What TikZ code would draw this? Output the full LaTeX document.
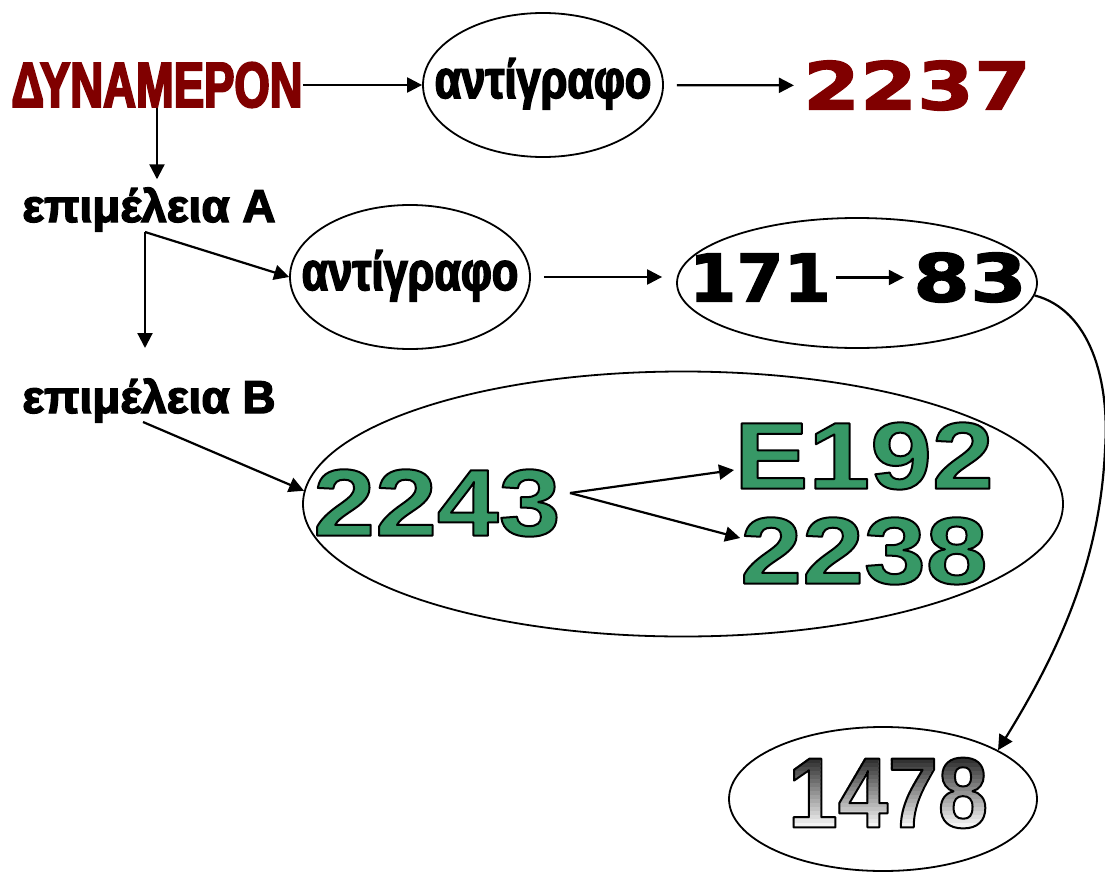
\documentclass[tikz,border=0pt]{standalone}
\usepackage{fontspec}
\setmainfont{Liberation Sans}[FakeBold=3]
\newfontfamily\condfont{Liberation Sans}[FakeStretch=0.71,FakeBold=3]
\newfontfamily\copyfont{Liberation Sans}[FakeStretch=0.8,FakeBold=3]
\newfontfamily\blackfont{DejaVu Sans}[FakeStretch=1.24,FakeBold=2]
\newfontfamily\onefont{DejaVu Sans}[FakeStretch=1.03,FakeBold=2]
\newfontfamily\greenfont{Liberation Sans}[FakeStretch=1.17]
\newfontfamily\greyfont{Liberation Sans}[FakeStretch=0.9]
\usetikzlibrary{arrows.meta}
\usetikzlibrary{shapes.geometric}
\usetikzlibrary{positioning}

\definecolor{darkred}{RGB}{128,0,0}
\definecolor{numgreen}{RGB}{55,152,102}

% fill in the text colour, black outline
\newcommand{\outlined}[1]{\special{pdf:code q 2 Tr 2 w 1 j 0 G}#1\special{pdf:code Q}}
% black outline only
\newcommand{\strokeonly}[1]{\special{pdf:code q 1 Tr 2 w 1 j 0 G}#1\special{pdf:code Q}}

\begin{document}
\begin{tikzpicture}[
    x=1pt,y=-1pt,
    arr/.style={-{Triangle[length=15pt,width=15pt]},line width=2.2pt},
    oval/.style={ellipse,draw,line width=1.8pt,inner sep=0pt},
    title/.style={font=\condfont\bfseries\fontsize{64}{64}\selectfont,text=darkred,inner sep=0pt},
    edlabel/.style={font=\bfseries\fontsize{46}{46}\selectfont,inner sep=0pt},
    copytext/.style={font=\copyfont\bfseries\fontsize{54}{54}\selectfont,inner sep=0pt},
    blacknum/.style={font=\blackfont\bfseries\fontsize{66}{66}\selectfont,inner sep=0pt},
    greennum/.style={font=\greenfont\bfseries\fontsize{95}{95}\selectfont,text=numgreen,inner sep=0pt},
    greynum/.style={font=\greyfont\bfseries\fontsize{100}{100}\selectfont,inner sep=0pt}
    ]
    \useasboundingbox (0,0) rectangle (1105,872);
    % top row
    \node[title] (dyn) at (157,85) {ΔΥΝΑΜΕΡΟΝ};
    \node[oval,minimum width=240pt,minimum height=144pt] (e1) at (543,85) {};
    \node[copytext,anchor=base] (t1) at ([yshift=-13pt]e1.center) {αντίγραφο};
    \node[blacknum,text=darkred] (n2237) at (917,85.5) {2237};
    \draw[arr] (dyn) -- (e1);
    \draw[arr,shorten <=13pt,shorten >=9pt] (e1) -- (n2237);
    % edition A
    \node[edlabel,anchor=base] (epA) at (149,222) {επιμέλεια Α};
    \draw[arr,shorten >=8pt] (dyn.south) -- (dyn.south |- epA.north);
    \coordinate (forkA) at (145,232);
    \coordinate (endA) at (145,348);
    \node[oval,minimum width=240pt,minimum height=144pt] (e2) at (410,277) {};
    \node[copytext,anchor=base] (t2) at ([yshift=-13pt]e2.center) {αντίγραφο};
    \draw[arr] (forkA) -- (e2.west);
    \draw[arr] (forkA) -- (endA);
    % 171 -> 83
    \node[oval,minimum width=360pt,minimum height=130pt] (e3) at (857,283) {};
    \node[blacknum,font=\onefont\bfseries\fontsize{66}{66}\selectfont] (n171) at (760,277.5) {171};
    \node[blacknum] (n83) at (970,277.5) {83};
    \draw[arr,shorten <=5pt,shorten >=9pt] (n171) -- (n83);
    \draw[arr,shorten <=13pt,shorten >=14pt] (e2.east) -- (e2.east -| e3.west);
    % edition B
    \node[edlabel,anchor=base] (epB) at (149,413) {επιμέλεια Β};
    \coordinate (forkB) at (143,422);
    \node[oval,minimum width=760pt,minimum height=265pt] (big) at (683,504) {};
    \node[greennum] (n2243) at (437,503) {\outlined{2243}};
    \node[greennum] (nE192) at (864,456) {\outlined{E192}};
    \node[greennum] (n2238) at (864,551) {\outlined{2238}};
    \draw[arr] (forkB) -- (big.178);
    \coordinate (split) at (570,493);
    \draw[arr] (split) -- ([yshift=-14pt]nE192.west);
    \draw[arr] (split) -- ([yshift=13pt]n2238.west);
    % 1478, shaded from dark grey to white
    \node[oval,minimum width=308pt,minimum height=144pt] (e4) at (883,799) {};
    \coordinate (c1478) at (888,793);
    \foreach \i in {0,...,18} {
      \pgfmathsetmacro\greylevel{85*(1-\i/18)}
      \begin{scope}
        \clip (780,{755+4*\i}) rectangle (1000,{760+4*\i});
        \node[greynum,text=black!\greylevel] at (c1478) {1478};
      \end{scope}
    }
    \node[greynum,text=black] (n1478) at (c1478) {\strokeonly{1478}};
    \coordinate (bend) at (1105,450);
    \draw[arr] (e3.-4) .. controls (1090,310) and (1110,380) .. (bend)
      .. controls (1100,560) and (1060,650) .. (e4.23);
\end{tikzpicture}
\end{document}
